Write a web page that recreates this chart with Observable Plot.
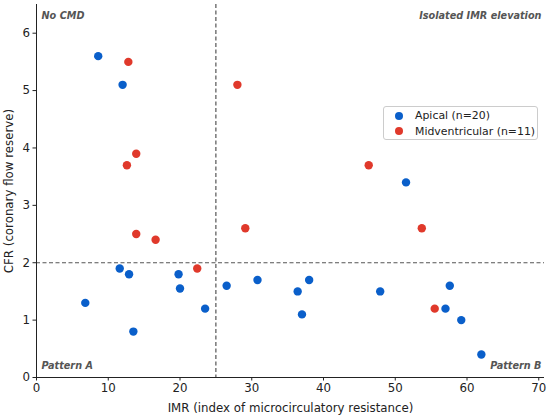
<!DOCTYPE html>
<html>
<head>
<meta charset="utf-8">
<script src="https://cdn.jsdelivr.net/npm/d3@7"></script>
<script src="https://cdn.jsdelivr.net/npm/@observablehq/plot@0.6"></script>
<style>
  html, body { margin: 0; padding: 0; background: #fff; }
  #wrap { position: relative; width: 550px; height: 417px; font-family: "DejaVu Sans", sans-serif; }
  #legend { position: absolute; left: 383px; top: 106px; width: 153px; height: 32px;
    border: 1px solid #cccccc; border-radius: 3px; background: rgba(255,255,255,0.8);
    font-size: 10.9px; color: #222; }
  .item { position: absolute; left: 11px; display: flex; align-items: center; white-space: nowrap; }
  .sw { width: 8px; height: 8px; border-radius: 50%; display: inline-block; margin-right: 12px; }
</style>
</head>
<body>
<div id="wrap"></div>
<script>
const apicalIMR = [8.6, 12.0, 51.5, 11.6, 12.9, 19.8, 20.0, 26.5, 30.8, 6.8, 23.5, 13.5, 38.0, 36.4, 37.0, 47.9, 57.6, 57.0, 59.2, 62.0];
const apicalCFR = [5.6, 5.1, 3.4, 1.9, 1.8, 1.8, 1.55, 1.6, 1.7, 1.3, 1.2, 0.8, 1.7, 1.5, 1.1, 1.5, 1.6, 1.2, 1.0, 0.4];
const midIMR = [12.8, 13.9, 12.6, 28.0, 46.3, 13.9, 16.6, 29.1, 22.4, 53.7, 55.5];
const midCFR = [5.5, 3.9, 3.7, 5.1, 3.7, 2.5, 2.4, 2.6, 1.9, 2.6, 1.2];
const groups = ["Apical (n=20)", "Midventricular (n=11)"];
const colors = ["#0a5fca", "#e0392b"];
const xTicks = [0, 10, 20, 30, 40, 50, 60, 70];
const yTicks = [0, 1, 2, 3, 4, 5, 6];
const imrCut = 25, cfrCut = 2;

const data = [
  ...apicalIMR.map((x, i) => ({x, y: apicalCFR[i], g: groups[0]})),
  ...midIMR.map((x, i) => ({x, y: midCFR[i], g: groups[1]}))
];

const labStyle = {fill: "#555", fontWeight: "bold", fontStyle: "italic", fontSize: 9.7};

const chart = Plot.plot({
  width: 550, height: 417,
  marginLeft: 36, marginTop: 4, marginBottom: 40, marginRight: 6,
  style: {fontFamily: "DejaVu Sans, sans-serif", fontSize: "11.5px", color: "#222", background: "#fff"},
  x: {domain: [0, 70.8]},
  y: {domain: [0, 6.5]},
  color: {domain: groups, range: colors},
  marks: [
    Plot.ruleX([imrCut], {stroke: "#555", strokeWidth: 1.2, strokeDasharray: "4,2.5"}),
    Plot.ruleY([cfrCut], {stroke: "#555", strokeWidth: 1.2, strokeDasharray: "4,2.5"}),
    Plot.ruleX([0], {stroke: "#222", strokeWidth: 1}),
    Plot.ruleY([0], {stroke: "#222", strokeWidth: 1}),
    Plot.axisX({ticks: xTicks, tickFormat: "d", tickSize: 3.5, tickPadding: 3, stroke: "#222", fontSize: 11.8,
      label: "IMR (index of microcirculatory resistance)", labelAnchor: "center", labelArrow: "none", labelOffset: 34}),
    Plot.axisY({ticks: yTicks, tickFormat: "d", tickSize: 3.5, tickPadding: 3, stroke: "#222", fontSize: 11.8,
      label: "CFR (coronary flow reserve)", labelAnchor: "center", labelArrow: "none", labelOffset: 32}),
    Plot.dot(data, {x: "x", y: "y", fill: "g", r: 4.2, stroke: "none"}),
    Plot.text(["No CMD"], {frameAnchor: "top-left", dx: 5, dy: 8, textAnchor: "start", ...labStyle}),
    Plot.text(["Isolated IMR elevation"], {frameAnchor: "top-right", dx: -3, dy: 8, textAnchor: "end", ...labStyle}),
    Plot.text(["Pattern A"], {frameAnchor: "bottom-left", dx: 5, dy: -9, textAnchor: "start", ...labStyle}),
    Plot.text(["Pattern B"], {frameAnchor: "bottom-right", dx: -3, dy: -9, textAnchor: "end", ...labStyle})
  ]
});

const wrap = document.getElementById("wrap");
wrap.appendChild(chart);

const leg = document.createElement("div");
leg.id = "legend";
groups.forEach((g, i) => {
  const it = document.createElement("div");
  it.className = "item";
  it.style.top = (2 + i * 15.5) + "px";
  const sw = document.createElement("span");
  sw.className = "sw";
  sw.style.background = colors[i];
  it.appendChild(sw);
  it.appendChild(document.createTextNode(g));
  leg.appendChild(it);
});
wrap.appendChild(leg);
</script>
</body>
</html>
